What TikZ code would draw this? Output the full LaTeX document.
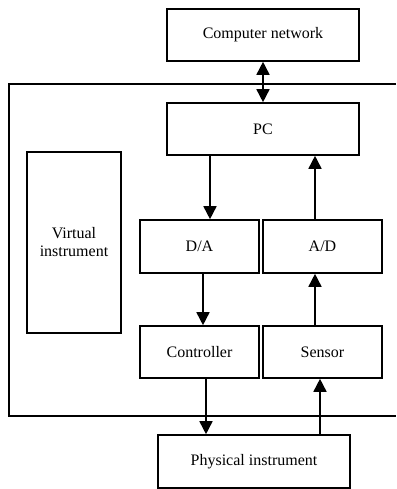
\documentclass[tikz,border=0pt]{standalone}
\usepackage{fontspec}
\setmainfont{Liberation Serif}
\usetikzlibrary{arrows.meta,calc}
\begin{document}
\begin{tikzpicture}[x=1pt,y=-1pt,
  blk/.style={draw,line width=1.6pt,inner sep=0pt,align=center,font=\fontsize{16}{18}\selectfont},
  arr/.style={line width=1.6pt,-{Triangle[width=13pt,length=13pt]}},
  darr/.style={line width=1.6pt,{Triangle[width=13pt,length=13pt]}-{Triangle[width=13pt,length=13pt]}}]
\useasboundingbox (0,0) rectangle (396,489);
\node[blk,minimum width=192pt,minimum height=52pt] (cn) at (263,35) {Computer network};
\node[blk,minimum width=192pt,minimum height=52pt] (pc) at (263,129) {PC};
\node[blk,minimum width=94pt,minimum height=181pt] (vi) at (74,242.5) {Virtual\\instrument};
\node[blk,minimum width=119pt,minimum height=53pt] (da) at (199.5,246.5) {D/A};
\node[blk,minimum width=119pt,minimum height=53pt] (ad) at (322.5,246.5) {A/D};
\node[blk,minimum width=119pt,minimum height=52pt] (ctrl) at (199.5,352) {Controller};
\node[blk,minimum width=119pt,minimum height=52pt] (sens) at (322.5,352) {Sensor};
\node[blk,minimum width=192pt,minimum height=53pt] (phys) at (254,461.5) {Physical instrument};
\coordinate (f1) at (396,84);
\coordinate (f2) at (9,84);
\coordinate (f3) at (9,416);
\coordinate (f4) at (396,416);
\draw[line width=1.6pt] (f1) -- (f2) -- (f3) -- (f4);
\draw[darr] (cn.south) -- (pc.north);
\draw[arr] ([xshift=-53pt]pc.south) -- ([xshift=-53pt]pc.south |- da.north);
\draw[arr] ([xshift=52pt]pc.south |- ad.north) -- ([xshift=52pt]pc.south);
\draw[arr] ([xshift=3.5pt]da.south) -- ([xshift=3.5pt]da.south |- ctrl.north);
\draw[arr] ([xshift=-7.5pt]ad.north |- sens.north) -- ([xshift=-7.5pt]ad.south);
\draw[arr] ([xshift=6.5pt]ctrl.south) -- ([xshift=6.5pt]ctrl.south |- phys.north);
\draw[arr] ([xshift=-2.5pt]sens.south |- phys.north) -- ([xshift=-2.5pt]sens.south);
\end{tikzpicture}
\end{document}
